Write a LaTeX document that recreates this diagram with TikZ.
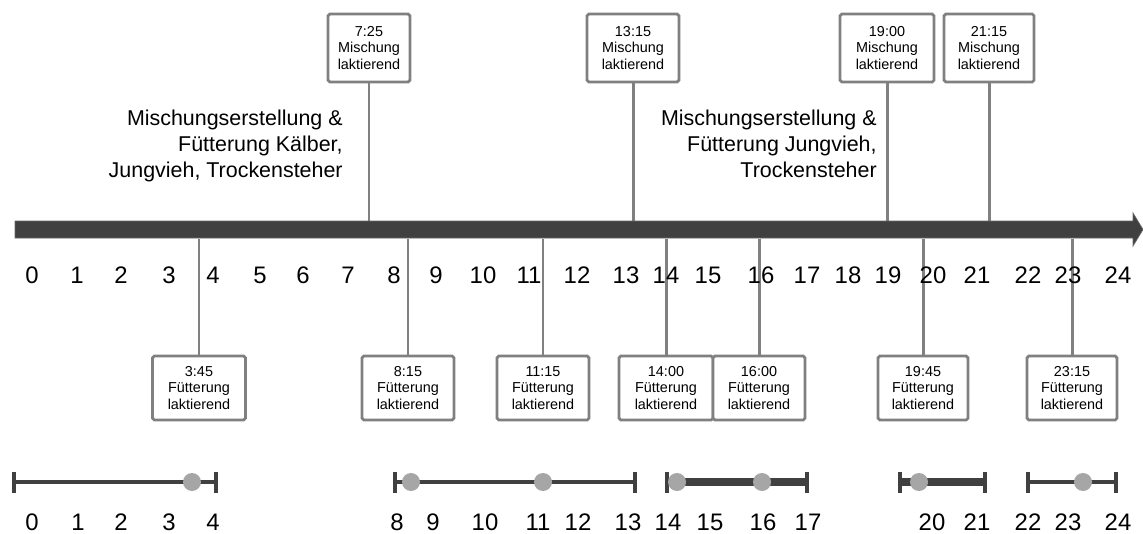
\documentclass[tikz,border=0pt]{standalone}
\usepackage{fontspec}
\setmainfont{Liberation Sans}
\definecolor{axisc}{HTML}{404040}
\definecolor{connc}{HTML}{808080}
\definecolor{dotc}{HTML}{A6A6A6}
\begin{document}
\begin{tikzpicture}[x=0.02cm,y=-0.02cm,
  box/.style={draw=connc, line width=1.6pt, fill=white, rounded corners=1pt, align=center, inner sep=0pt, minimum width=1.84cm, font=\fontsize{8.2}{9.6}\selectfont},
  topbox/.style={box, minimum height=1.36cm},
  botbox/.style={box, minimum height=1.28cm},
  lnk/.style={draw=connc, line width=1.7pt},
  num/.style={font=\fontsize{13.6}{16}\selectfont, inner sep=0pt},
  desc/.style={font=\fontsize{12.2}{14.7}\selectfont, align=right, inner sep=0pt},
  endcap/.style={draw=axisc, line width=2.8pt},
  dot/.style={circle, fill=dotc, minimum size=0.36cm, inner sep=0pt}]
\useasboundingbox (0,0) rectangle (1143,534);

% axis reference coordinates
\coordinate (axT) at (0,221);
\coordinate (axB) at (0,239);

% top boxes
\node[topbox, minimum width=1.64cm] (b0725) at (369,48) {7:25\\Mischung\\laktierend};
\node[topbox] (b1315) at (633,48) {13:15\\Mischung\\laktierend};
\node[topbox, minimum width=1.88cm] (b1900) at (887,48) {19:00\\Mischung\\laktierend};
\node[topbox, minimum width=1.80cm] (b2115) at (989,48) {21:15\\Mischung\\laktierend};

% bottom boxes
\node[botbox, minimum width=1.86cm] (b0345) at (199,388) {3:45\\Fütterung\\laktierend};
\node[botbox] (b0815) at (408,388) {8:15\\Fütterung\\laktierend};
\node[botbox] (b1115) at (543,388) {11:15\\Fütterung\\laktierend};
\node[botbox, minimum width=1.88cm] (b1400) at (666,388) {14:00\\Fütterung\\laktierend};
\node[botbox] (b1600) at (759,388) {16:00\\Fütterung\\laktierend};
\node[botbox, minimum width=1.80cm] (b1945) at (923,388) {19:45\\Fütterung\\laktierend};
\node[botbox, minimum width=1.80cm] (b2315) at (1072,388) {23:15\\Fütterung\\laktierend};

% connectors
\foreach \b in {b0725,b1315,b1900,b2115}
  \draw[lnk] (\b.south) -- (\b.south |- axT);
\foreach \b in {b0345,b0815,b1115,b1400,b1600,b1945,b2315}
  \draw[lnk] (\b.north) -- (\b.north |- axB);

% main axis arrow
\fill[axisc, draw=axisc!80!white, line width=0.4pt]
  (15,221) -- (1133,221) -- (1133,213) -- (1143,229.5) -- (1133,246) -- (1133,238) -- (15,238) -- cycle;

% descriptions
\node[desc, anchor=east] (desc1) at (343,146) {Mischungserstellung \&\\Fütterung Kälber,\\Jungvieh, Trockensteher};
\node[desc, anchor=east] (desc2) at (877,144) {Mischungserstellung \&\\Fütterung Jungvieh,\\Trockensteher};

% axis numbers
\foreach \n/\x in {0/32,1/77,2/121,3/169,4/213,5/260,6/303,7/348,8/394,9/436,10/483,11/529,12/577,13/626,14/666,15/708,16/761,17/807,18/848,19/888,20/933,21/977,22/1028,23/1068,24/1118}
  \node[num] (n\n) at (\x,275) {\n};

% bottom timelines
\coordinate (t1a) at (14,482);  \coordinate (t1b) at (216,482);
\coordinate (t2a) at (395,482); \coordinate (t2b) at (635,482);
\coordinate (t3a) at (667,482); \coordinate (t3b) at (807,482);
\coordinate (t4a) at (900,482); \coordinate (t4b) at (985,482);
\coordinate (t5a) at (1028,482); \coordinate (t5b) at (1116,482);
\draw[axisc, line width=2.8pt] (t1a) -- (t1b);
\draw[axisc, line width=2.8pt] (t2a) -- (t2b);
\draw[axisc, line width=4.5pt] (t3a) -- (t3b);
\draw[axisc, line width=4pt] (t4a) -- (t4b);
\draw[axisc, line width=2.8pt] (t5a) -- (t5b);
\foreach \c in {t1a,t1b,t2a,t2b,t3a,t3b,t4a,t4b,t5a,t5b}
  \draw[endcap] (\c) ++(0,-10.5) -- ++(0,21);
\node[dot] (d1) at (192,482) {};
\node[dot] (d2) at (411,482) {};
\node[dot] (d3) at (543,482) {};
\node[dot] (d4) at (677,482) {};
\node[dot] (d5) at (762,482) {};
\node[dot] (d6) at (919,482) {};
\node[dot] (d7) at (1083,482) {};

% bottom numbers
\foreach \n/\x in {0/32,1/78,2/121,3/169,4/213,8/397,9/433,10/485,11/538,12/578,13/628,14/668,15/710,16/763,17/808,20/932,21/977,22/1028,23/1068,24/1118}
  \node[num] (m\n) at (\x,522) {\n};
\end{tikzpicture}
\end{document}
